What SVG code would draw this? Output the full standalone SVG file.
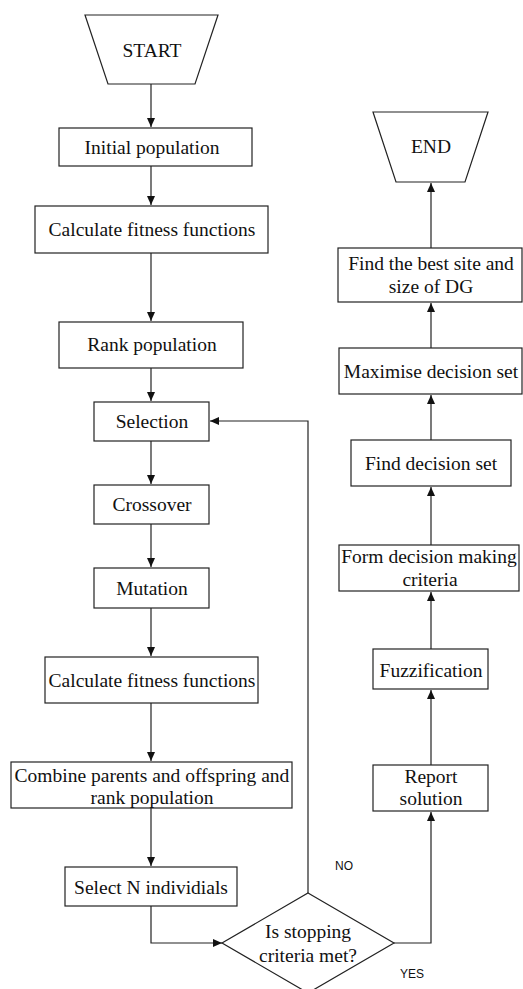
<svg xmlns="http://www.w3.org/2000/svg" width="523" height="989" viewBox="0 0 523 989">
<style>
.n{fill:#fff;stroke:#222;stroke-width:1.2}
.t{font-family:"Liberation Serif","Times New Roman",serif;font-size:19.5px;fill:#111;text-anchor:middle}
.s{font-family:"Liberation Sans",Arial,sans-serif;font-size:12px;fill:#111;text-anchor:middle}
.c{fill:none;stroke:#222;stroke-width:1.2}
</style>
<defs>
<marker id="ah" markerWidth="10" markerHeight="10" refX="9" refY="4" orient="auto" markerUnits="userSpaceOnUse">
<path d="M0,0 L9,4 L0,8 Z" fill="#111"/>
</marker>
</defs>
<rect width="523" height="989" fill="#fff"/>
<g id="connectors">
<path class="c" d="M151,84 V127" marker-end="url(#ah)"/>
<path class="c" d="M151,166 V205" marker-end="url(#ah)"/>
<path class="c" d="M151,253 V321" marker-end="url(#ah)"/>
<path class="c" d="M151,368 V401" marker-end="url(#ah)"/>
<path class="c" d="M151,441 V484" marker-end="url(#ah)"/>
<path class="c" d="M151,524 V567" marker-end="url(#ah)"/>
<path class="c" d="M151,608 V656" marker-end="url(#ah)"/>
<path class="c" d="M151,703 V761" marker-end="url(#ah)"/>
<path class="c" d="M151,808 V866" marker-end="url(#ah)"/>
<path class="c" d="M151,906 V943 H222" marker-end="url(#ah)"/>
<path class="c" d="M308,893 V421 H210" marker-end="url(#ah)"/>
<path class="c" d="M394,943 H431 V812" marker-end="url(#ah)"/>
<path class="c" d="M431,765 V690" marker-end="url(#ah)"/>
<path class="c" d="M431,649 V592" marker-end="url(#ah)"/>
<path class="c" d="M431,545 V487" marker-end="url(#ah)"/>
<path class="c" d="M431,440 V395" marker-end="url(#ah)"/>
<path class="c" d="M431,348 V303" marker-end="url(#ah)"/>
<path class="c" d="M431,248 V183" marker-end="url(#ah)"/>
<text class="s" x="344" y="870">NO</text>
<text class="s" x="412" y="978">YES</text>
</g>
<g id="start"><path class="n" d="M85,15 H218 L195,84 H108 Z"/><text class="t" x="152" y="57">START</text></g>
<g id="init"><rect class="n" x="59" y="128" width="193" height="38"/><text class="t" x="152" y="154">Initial population</text></g>
<g id="fit1"><rect class="n" x="35" y="206" width="233" height="47"/><text class="t" x="152" y="236">Calculate fitness functions</text></g>
<g id="rank"><rect class="n" x="59" y="322" width="184" height="46"/><text class="t" x="152" y="351">Rank population</text></g>
<g id="sel"><rect class="n" x="94" y="402" width="115" height="39"/><text class="t" x="152" y="428">Selection</text></g>
<g id="cross"><rect class="n" x="94" y="485" width="115" height="39"/><text class="t" x="152" y="511">Crossover</text></g>
<g id="mut"><rect class="n" x="94" y="568" width="115" height="40"/><text class="t" x="152" y="595">Mutation</text></g>
<g id="fit2"><rect class="n" x="45" y="657" width="213" height="46"/><text class="t" x="152" y="687">Calculate fitness functions</text></g>
<g id="comb"><rect class="n" x="11" y="762" width="281" height="46"/><text class="t" x="152" y="782">Combine parents and offspring and</text><text class="t" x="152" y="804">rank population</text></g>
<g id="selN"><rect class="n" x="65" y="867" width="172" height="39"/><text class="t" x="151" y="894">Select N individials</text></g>
<g id="dec"><path class="n" d="M308,893 L394,943 L308,993 L222,943 Z"/><text class="t" x="308" y="938">Is stopping</text><text class="t" x="308" y="962">criteria met?</text></g>
<g id="report"><rect class="n" x="373" y="765" width="115" height="46"/><text class="t" x="431" y="783">Report</text><text class="t" x="431" y="805">solution</text></g>
<g id="fuzz"><rect class="n" x="373" y="649" width="115" height="40"/><text class="t" x="431" y="677">Fuzzification</text></g>
<g id="form"><rect class="n" x="339" y="545" width="180" height="46"/><text class="t" x="429" y="563">Form decision making</text><text class="t" x="430" y="586">criteria</text></g>
<g id="finddec"><rect class="n" x="351" y="440" width="160" height="46"/><text class="t" x="431" y="470">Find decision set</text></g>
<g id="max"><rect class="n" x="339" y="348" width="183" height="46"/><text class="t" x="431" y="378">Maximise decision set</text></g>
<g id="best"><rect class="n" x="338" y="248" width="184" height="54"/><text class="t" x="431" y="270">Find the best site and</text><text class="t" x="431" y="293">size of DG</text></g>
<g id="end"><path class="n" d="M373,112 H488 L465,182 H396 Z"/><text class="t" x="431" y="153">END</text></g>
</svg>
